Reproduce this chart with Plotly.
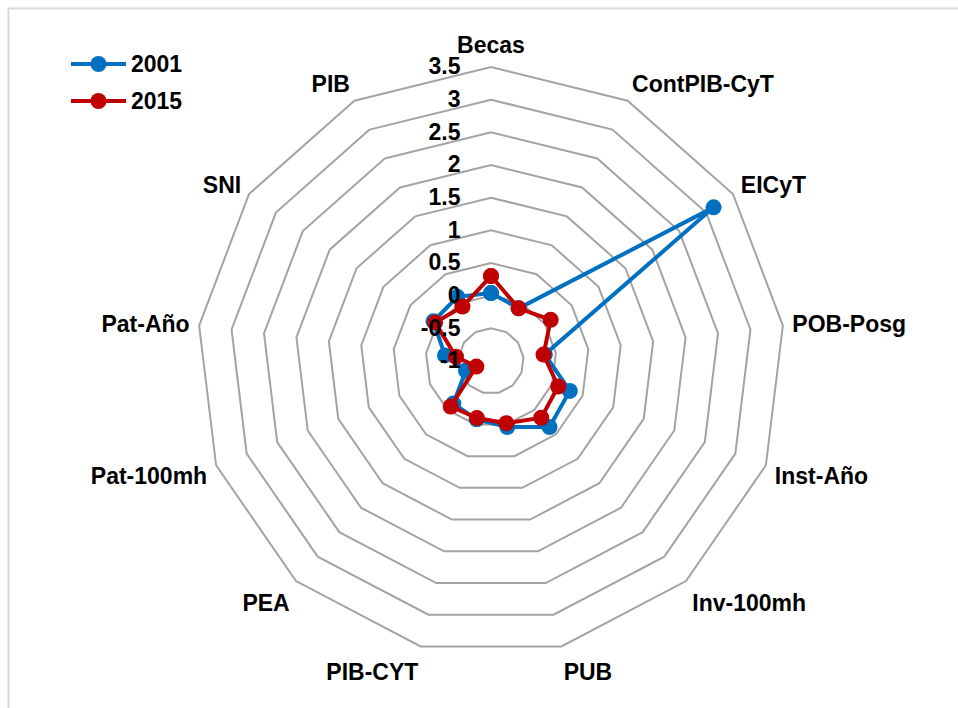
import plotly.graph_objects as go

categories = ["Becas", "ContPIB-CyT", "EICyT", "POB-Posg", "Inst-Año", "Inv-100mh",
              "PUB", "PIB-CYT", "PEA", "Pat-100mh", "Pat-Año", "SNI", "PIB"]
values_2001 = [0.04, -0.09, 3.14, -0.17, 0.29, 0.35, 0.04, -0.08, -0.13, -0.59, -0.29, 0.07, 0.11]
values_2015 = [0.30, -0.09, 0.11, -0.19, 0.10, 0.16, -0.02, -0.10, -0.07, -0.76, -0.46, 0.04, -0.06]
radial_ticks = [-1, -0.5, 0, 0.5, 1, 1.5, 2, 2.5, 3, 3.5]

W, H = 958, 708
FONT = "Liberation Sans, Arial, sans-serif"
FSIZE = 23
GRID = "#A3A3A3"
bold = dict(family=FONT, size=FSIZE, color="black", weight="bold")

series = [("2001", values_2001, "#0070C0"), ("2015", values_2015, "#C00000")]

fig = go.Figure()
for name, vals, color in series:
    fig.add_trace(go.Scatterpolar(
        r=vals + vals[:1],
        theta=categories + categories[:1],
        name=name,
        mode="lines+markers",
        cliponaxis=True,
        line=dict(color=color, width=4),
        marker=dict(color=color, size=16),
        showlegend=False,
    ))

# legend: line sample with a centred marker, then the series name
shapes = []
annotations = []
lx0, lx1, ly0, dy = 71, 126, 64, 37
for i, (name, vals, color) in enumerate(series):
    y = ly0 + i * dy
    shapes.append(dict(type="line", xref="paper", yref="paper",
                       x0=lx0 / W, x1=lx1 / W, y0=1 - y / H, y1=1 - y / H,
                       line=dict(color=color, width=4)))
    mx = (lx0 + lx1) / 2
    shapes.append(dict(type="circle", xref="paper", yref="paper",
                       x0=(mx - 8) / W, x1=(mx + 8) / W,
                       y0=1 - (y + 8) / H, y1=1 - (y - 8) / H,
                       fillcolor=color, line=dict(color=color, width=0)))
    annotations.append(dict(xref="paper", yref="paper", x=(lx1 + 3) / W, y=1 - y / H,
                            text=name, showarrow=False, xanchor="left", yanchor="middle",
                            font=bold))

# chart-area border
shapes.append(dict(type="rect", xref="paper", yref="paper",
                   x0=8.5 / W, x1=1.05, y0=-0.05, y1=1 - 8.5 / H,
                   line=dict(color="#D9D9D9", width=2), fillcolor="rgba(0,0,0,0)"))

cx, cy, R = 491, 361, 294
fig.update_layout(
    width=W, height=H,
    margin=dict(l=0, r=0, t=0, b=0),
    paper_bgcolor="white",
    plot_bgcolor="white",
    font=bold,
    showlegend=False,
    polar=dict(
        domain=dict(x=[(cx - R) / W, (cx + R) / W], y=[(H - cy - R) / H, (H - cy + R) / H]),
        bgcolor="white",
        gridshape="linear",
        radialaxis=dict(
            range=[-1, 3.5],
            tickvals=radial_ticks,
            ticktext=[f"{t:g}" for t in radial_ticks],
            angle=90,
            tickangle=90,
            side="counterclockwise",
            showline=False,
            ticks="outside",
            ticklen=22,
            tickcolor="rgba(0,0,0,0)",
            showgrid=True,
            gridcolor=GRID,
            gridwidth=2,
            tickfont=bold,
        ),
        angularaxis=dict(
            direction="clockwise",
            rotation=90,
            showgrid=False,
            showline=True,
            linecolor=GRID,
            linewidth=2,
            ticks="outside",
            ticklen=4,
            tickcolor="rgba(0,0,0,0)",
            tickfont=bold,
        ),
    ),
    shapes=shapes,
    annotations=annotations,
)

fig.write_html("out.html")
